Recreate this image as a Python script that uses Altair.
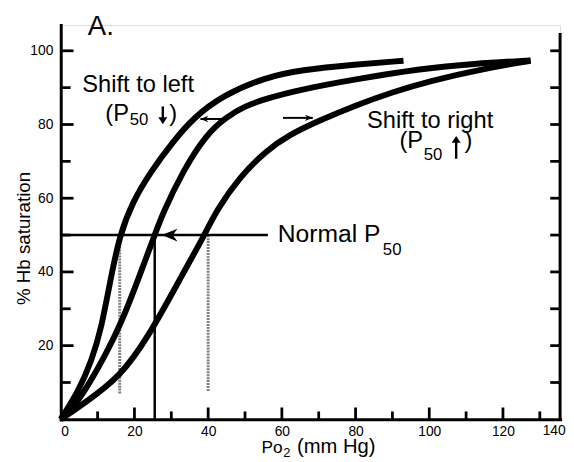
import altair as alt
import pandas as pd

# ---------------- data ----------------
left_po2 = [0, 5, 8.3, 11, 13.5, 16, 19.5, 24.4, 30.6, 35.9, 43.9, 55.6, 65, 80, 93]
left_sat = [0, 8, 15.7, 24.5, 38, 50, 59, 67.2, 75.5, 81.7, 87.9, 92.8, 94.8, 96.3, 97.3]

normal_po2 = [0, 4, 7.6, 12.1, 16.5, 21, 25.5, 27.5, 33.2, 39.5, 44.9, 50, 55.6, 65, 80, 98, 112, 127.5]
normal_sat = [0, 4, 9.5, 17.4, 26.3, 37.9, 50, 55.5, 67.5, 77.3, 82, 85, 87, 89.5, 92.3, 95.2, 96.5, 97.4]

right_po2 = [0, 7, 16, 23.6, 33.4, 39, 42.3, 48.5, 55.6, 62, 70, 80, 90, 100, 115, 127.5]
right_sat = [0, 4.8, 11.5, 22, 40, 50, 56.8, 65.7, 72.8, 77.2, 81, 85.2, 88.8, 91.8, 95.2, 97.3]

p50_values = [16, 25.5, 40]          # left, normal, right P50
gray_drop_bottom = [7, 7.7]          # lower ends of the gray P50 drop lines (left, right)
normal_line_end = 56.2               # horizontal 50 % line runs to the label

x_tick_labels = [0, 20, 40, 60, 80, 100, 120]
y_tick_labels = [20, 40, 60, 80, 100]
x_major = [20, 40, 60, 80, 100, 120]
x_minor = [10, 30, 50, 70, 90, 110, 130]
y_major = [20, 40, 60, 80, 100]
y_minor = [10, 30, 50, 70, 90]
right_ticks = [10, 20, 30, 40, 50, 60, 70, 80, 90, 100]

X_DOM = [0, 135.5]
Y_DOM = [0, 107]
W, H = 506.5, 400
FONT = "Liberation Sans"

# ---------------- tables ----------------
curves = pd.concat([
    pd.DataFrame({"po2": left_po2, "sat": left_sat, "curve": "left"}),
    pd.DataFrame({"po2": normal_po2, "sat": normal_sat, "curve": "normal"}),
    pd.DataFrame({"po2": right_po2, "sat": right_sat, "curve": "right"}),
])

gray_df = pd.DataFrame({"po2": [p50_values[0], p50_values[2]],
                        "sat": gray_drop_bottom, "sat2": [50, 50]})
vline_df = pd.DataFrame({"po2": [p50_values[1]], "sat": [0], "sat2": [50]})
hline_df = pd.DataFrame({"po2": [0], "po2b": [normal_line_end], "sat": [50]})
frame_df = pd.DataFrame({"po2": [X_DOM[1]], "sat": [0], "sat2": [104.8]})

hshafts = pd.DataFrame({"po2": [37.9, 60.3], "po2b": [44.3, 68.4], "sat": [81.5, 81.8]})
vshafts = pd.DataFrame({"po2": [27.7, 107.3], "sat": [84.9, 70.7], "sat2": [81.0, 76.0]})
h_heads = pd.DataFrame({"po2": [37.9, 68.4], "sat": [81.5, 81.8], "ang": [0, 180]})
v_heads = pd.DataFrame({"po2": [27.7, 107.3], "sat": [80.1, 76.9], "ang": [270, 90]})
big_head = pd.DataFrame({"po2": [27.4], "sat": [50], "ang": [0]})

texts_left = pd.DataFrame({
    "po2": [7.36, 12.1, 18.7, 83.1, 91.9, 98.5, 58.9, 87.4, 54.5, 60.4, 64.1],
    "sat": [104.3, 81.0, 79.85, 79.1, 73.6, 70.5, 48.2, 44.5, -9.0, -10.1, -9.0],
    "txt": ["A.", "(P", "50", "Shift to right", "(P", "50", "Normal P", "50",
            "Po", "2", "(mm Hg)"],
    "fs": [28, 24, 17, 24, 24, 17, 25, 17, 17.5, 13, 20.5],
})
texts_center = pd.DataFrame({"po2": [21.0, 133.9], "sat": [88.8, -4.2],
                             "txt": ["Shift to left", "140"], "fs": [24, 14]})
texts_right = pd.DataFrame({"po2": [31.6, 111.7], "sat": [81.0, 73.6],
                            "txt": [")", ")"], "fs": [24, 24]})

# ---------------- encodings ----------------
xs = alt.Scale(domain=X_DOM, nice=False, zero=False)
ys = alt.Scale(domain=Y_DOM, nice=False, zero=False)
x_axis = alt.Axis(values=x_tick_labels, ticks=False, grid=False, domainWidth=3,
                  domainColor="black", domainCap="square", labelFontSize=14,
                  labelPadding=5, labelFont=FONT, labelColor="black", title=None)
y_axis = alt.Axis(values=y_tick_labels, ticks=False, grid=False, domainWidth=3,
                  domainColor="black", domainCap="square", labelFontSize=14,
                  labelPadding=8, labelFont=FONT, labelColor="black",
                  title="% Hb saturation", titleAngle=270, titleX=-32, titleY=216,
                  titleFontSize=19, titleFontWeight="normal", titleFont=FONT,
                  titleAlign="center", titleBaseline="alphabetic", titleColor="black")


def X(f="po2"):
    return alt.X(f"{f}:Q", scale=xs, axis=x_axis)


def Y(f="sat"):
    return alt.Y(f"{f}:Q", scale=ys, axis=y_axis)


ARROW = "M0,0L2,-0.8L1.4,0L2,0.8Z"
TRI = "M0,0L2,-1.3L2,1.3Z"

curve_layer = alt.Chart(curves).mark_line(
    strokeWidth=6, color="black", interpolate="basis", strokeCap="butt"
).encode(x=X(), y=Y(), detail="curve:N")

gray_layer = alt.Chart(gray_df).mark_rule(
    color="#808080", strokeWidth=3, strokeDash=[2, 1]
).encode(x=X(), y=Y(), y2="sat2:Q")

vline_layer = alt.Chart(vline_df).mark_rule(color="black", strokeWidth=2.5).encode(
    x=X(), y=Y(), y2="sat2:Q")
hline_layer = alt.Chart(hline_df).mark_rule(color="black", strokeWidth=2.6).encode(
    x=X(), x2="po2b:Q", y=Y())
frame_layer = alt.Chart(frame_df).mark_rule(color="black", strokeWidth=3).encode(
    x=X(), y=Y(), y2="sat2:Q")

hshaft_layer = alt.Chart(hshafts).mark_rule(color="black", strokeWidth=2).encode(
    x=X(), x2="po2b:Q", y=Y())
vshaft_layer = alt.Chart(vshafts).mark_rule(color="black", strokeWidth=2.4).encode(
    x=X(), y=Y(), y2="sat2:Q")
h_head_layer = alt.Chart(h_heads).mark_point(
    shape=ARROW, filled=True, color="black", opacity=1, size=64, strokeWidth=0
).encode(x=X(), y=Y(), angle=alt.Angle("ang:Q", scale=None))
v_head_layer = alt.Chart(v_heads).mark_point(
    shape=TRI, filled=True, color="black", opacity=1, size=49, strokeWidth=0
).encode(x=X(), y=Y(), angle=alt.Angle("ang:Q", scale=None))
big_head_layer = alt.Chart(big_head).mark_point(
    shape=ARROW, filled=True, color="black", opacity=1, size=256, strokeWidth=0
).encode(x=X(), y=Y(), angle=alt.Angle("ang:Q", scale=None))

left_major = alt.Chart(pd.DataFrame({"sat": y_major})).mark_rule(
    color="black", strokeWidth=2.8).encode(y=Y(), x=alt.value(0), x2=alt.value(13))
left_minor = alt.Chart(pd.DataFrame({"sat": y_minor})).mark_rule(
    color="black", strokeWidth=2.8).encode(y=Y(), x=alt.value(0), x2=alt.value(10))
bottom_major = alt.Chart(pd.DataFrame({"po2": x_major})).mark_rule(
    color="black", strokeWidth=2.8).encode(x=X(), y=alt.value(H), y2=alt.value(H - 12))
bottom_minor = alt.Chart(pd.DataFrame({"po2": x_minor})).mark_rule(
    color="black", strokeWidth=2.8).encode(x=X(), y=alt.value(H), y2=alt.value(H - 8))
right_tick_layer = alt.Chart(pd.DataFrame({"sat": right_ticks})).mark_rule(
    color="black", strokeWidth=2.8).encode(y=Y(), x=alt.value(W), x2=alt.value(W - 10))


def text_layer(df, align):
    return alt.Chart(df).mark_text(
        align=align, baseline="alphabetic", font=FONT, color="black"
    ).encode(x=X(), y=Y(), text="txt:N", size=alt.Size("fs:Q", scale=None, legend=None))


chart = alt.layer(
    gray_layer, vline_layer, hline_layer, frame_layer,
    left_major, left_minor, bottom_major, bottom_minor, right_tick_layer,
    curve_layer,
    hshaft_layer, vshaft_layer, h_head_layer, v_head_layer, big_head_layer,
    text_layer(texts_left, "left"), text_layer(texts_center, "center"),
    text_layer(texts_right, "right"),
).properties(
    width=W, height=H, autosize="none",
    padding={"left": 53.5, "top": 14, "right": 6, "bottom": 38},
).configure_view(stroke=None).configure(font=FONT)

chart.save("out.html", embed_options={"renderer": "svg", "actions": False})
